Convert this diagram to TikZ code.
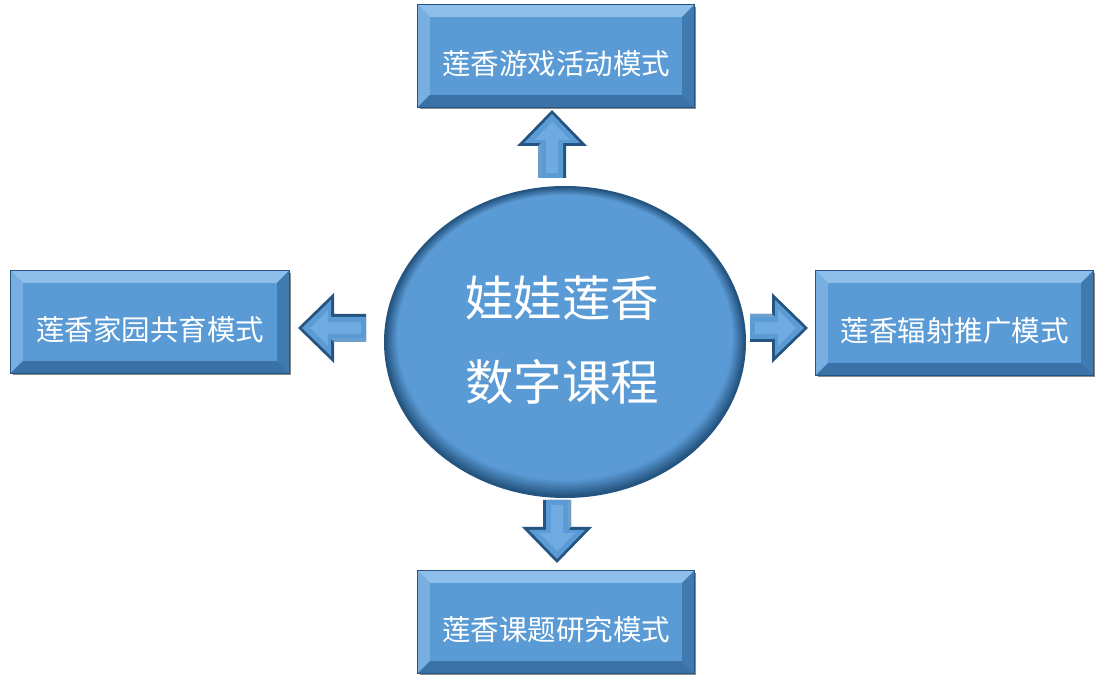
\documentclass[tikz,border=0pt]{standalone}
\usepackage{fontspec}
\newfontfamily\cjk{Noto Sans CJK SC}
\usetikzlibrary{shapes.geometric,calc,shadows}
\definecolor{face}{HTML}{5B9BD5}
\definecolor{edark}{HTML}{24547F}
\definecolor{bevtop}{HTML}{8EBFEA}
\definecolor{bevleft}{HTML}{78AEE0}
\definecolor{bevright}{HTML}{3F7AB0}
\definecolor{bevbot}{HTML}{3A72A8}
\definecolor{arrlight}{HTML}{6FAAE0}
\tikzset{
  box/.style={rectangle, minimum width=276, minimum height=102, inner sep=0, fill=face,
    drop shadow={shadow xshift=2pt, shadow yshift=-2pt, opacity=0.45, fill=black}},
  boxtext/.style={text=white, font=\cjk\fontsize{28.5}{30}\selectfont, inner sep=0},
  bigtext/.style={text=white, align=center, font=\cjk\fontsize{48.5}{84}\selectfont, inner sep=0},
  edge/.style={draw=edark, line width=0.8pt},
  pics/blockarrow/.style={code={
    \fill[edark] (0,-14) -- (#1-36,-14) -- (#1-36,-35) -- (#1,0) -- (#1-36,35) -- (#1-36,14) -- (0,14) -- cycle;
    \fill[face] (0,-11) -- (#1-33,-11) -- (#1-33,-28) -- (#1-4,0) -- (#1-33,28) -- (#1-33,11) -- (0,11) -- cycle;
    \fill[arrlight] (5,-6) -- (#1-30,-6) -- (#1-30,-18) -- (#1-12,0) -- (#1-30,18) -- (#1-30,6) -- (5,6) -- cycle;
    \fill[bevtop,opacity=0.7] (0,14) -- (#1-36,14) -- (#1-33,11) -- (0,11) -- cycle;
  }}
}
\newcommand\bevelbox[2]{%
  \fill[bevtop] (#1.north west) -- (#1.north east) -- ($(#1.north east)+(-12,-12)$) -- ($(#1.north west)+(12,-12)$) -- cycle;
  \fill[bevleft] (#1.north west) -- ($(#1.north west)+(12,-12)$) -- ($(#1.south west)+(12,12)$) -- (#1.south west) -- cycle;
  \fill[bevright] (#1.north east) -- ($(#1.north east)+(-12,-12)$) -- ($(#1.south east)+(-12,12)$) -- (#1.south east) -- cycle;
  \fill[bevbot] (#1.south west) -- ($(#1.south west)+(12,12)$) -- ($(#1.south east)+(-12,12)$) -- (#1.south east) -- cycle;
  \draw[edge] (#1.north west) rectangle (#1.south east);
  \node[boxtext] (#1-t) at ($(#1.center)+(0,-8)$) {#2};
}
\begin{document}
\begin{tikzpicture}[x=1pt,y=1pt]
\fill[white] (0,0) rectangle (1103,683);
\useasboundingbox (0,0) rectangle (1103,683);

% boxes
\node[box] (top) at (556,627) {};
\bevelbox{top}{莲香游戏活动模式}
\node[box, minimum width=278] (left) at (150,361) {};
\bevelbox{left}{莲香家园共育模式}
\node[box, minimum width=277, minimum height=104] (right) at (954.5,360) {};
\bevelbox{right}{莲香辐射推广模式}
\node[box] (bottom) at (556,61) {};
\bevelbox{bottom}{莲香课题研究模式}

% central ellipse
\node[ellipse, minimum width=362, minimum height=312, inner sep=0, fill=edark] (c) at (565,341) {};
\foreach \i [evaluate=\i as \p using int(\i*8)] in {0,...,12}
  \fill[color=face!\p!edark] ($(c.center)+(0,0.35*\i)$) ellipse ({180-\i} and {155-\i});
\fill[face] ($(c.center)+(0,5)$) ellipse (167 and 142);
\node[bigtext] (ct) at ($(c.center)+(-3,2)$) {娃娃莲香\\数字课程};

% block arrows
\pic[rotate=90] at (552,505) {blockarrow=68};
\pic[rotate=180] at (366,355) {blockarrow=68};
\pic at (750,355) {blockarrow=58};
\pic[rotate=-90] at (557,183) {blockarrow=63};
\end{tikzpicture}
\end{document}
